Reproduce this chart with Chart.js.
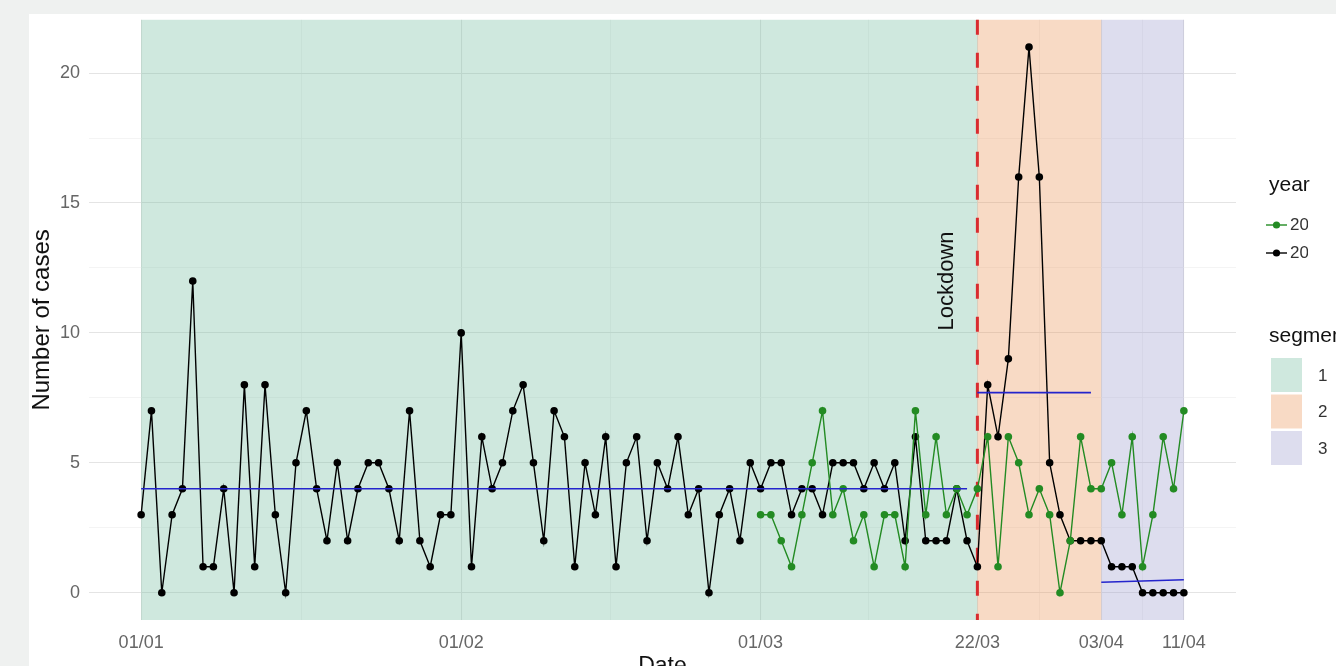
<!DOCTYPE html>
<html>
<head>
<meta charset="utf-8">
<title>Number of cases by date</title>
<script src="https://cdn.jsdelivr.net/npm/chart.js@4"></script>
<style>
  html, body { margin: 0; padding: 0; background: #eff1f0; overflow: hidden; }
  #chart { display: block; }
</style>
</head>
<body>
<canvas id="chart" width="1336" height="666"></canvas>
<script>
// x values are day numbers counted from 01/01/2020
const tickDays = [0, 31, 60, 81, 93, 101];
const tickLabels = ["01/01", "01/02", "01/03", "22/03", "03/04", "11/04"];
const minorDays = [15.5, 45.5, 70.5, 87, 97];
const yTicks = [0, 5, 10, 15, 20];
const yMinorTicks = [2.5, 7.5, 12.5, 17.5];

// daily cases, 01/01 -> 11/04 (black)
const cases2020 = [
    3, 7, 0, 3, 4, 12, 1, 1, 4, 0, 8, 1, 8, 3, 0, 5, 7, 4, 2, 5, 2, 4, 5, 5, 4, 2, 7, 2, 1, 3, 3,
    10, 1, 6, 4, 5, 7, 8, 5, 2, 7, 6, 1, 5, 3, 6, 1, 5, 6, 2, 5, 4, 6, 3, 4, 0, 3, 4, 2, 5,
    4, 5, 5, 3, 4, 4, 3, 5, 5, 5, 4, 5, 4, 5, 2, 6, 2, 2, 2, 4, 2, 1, 8, 6, 9, 16, 21, 16, 5, 3, 2,
    2, 2, 2, 1, 1, 1, 0, 0, 0, 0, 0
];
// daily cases, 01/03 -> 11/04 (green)
const cases2019 = [
    3, 3, 2, 1, 3, 5, 7, 3, 4, 2, 3, 1, 3, 3, 1, 7, 3, 6, 3, 4, 3, 4, 6, 1, 6, 5, 3, 4, 3, 0, 2,
    6, 4, 4, 5, 3, 6, 1, 3, 6, 4, 7
];
const start2019 = 60;
const seriesNames = ["2019", "2020"];

// segments and the fitted level of each one
const segmentNames = ["1", "2", "3"];
const segmentFrom = [0, 81, 93];
const segmentTo = [81, 93, 101];
const fitFrom = [0, 81, 93];
const fitTo = [80, 92, 101];
const fitFromValue = [4.0, 7.7, 0.4];
const fitToValue = [4.0, 7.7, 0.5];
const lockdownDay = 81;
const lockdownLabelY = 12;

const GREEN = "#238b23";
const FILLS = ["rgba(118,189,161,0.35)", "rgba(235,149,89,0.35)", "rgba(158,158,206,0.35)"];
const FONT = "'Liberation Sans', Arial, sans-serif";

Chart.defaults.font.family = FONT;

const blackPoints = cases2020.map((v, i) => ({ x: i, y: v }));
const greenPoints = cases2019.map((v, i) => ({ x: start2019 + i, y: v }));

const fitSets = segmentNames.map((name, i) => ({
    label: "fit " + name,
    data: [{ x: fitFrom[i], y: fitFromValue[i] }, { x: fitTo[i], y: fitToValue[i] }],
    borderColor: "#2424cc",
    borderWidth: 1.6,
    pointRadius: 0,
    order: 0
}));

const decor = {
    id: "decor",
    beforeDraw(chart) {
        const c = chart.ctx;
        c.save();
        c.fillStyle = "#eff1f0";
        c.fillRect(0, 0, chart.width, chart.height);
        c.fillStyle = "#ffffff";
        c.fillRect(29, 14, chart.width - 29, chart.height - 14);
        c.restore();
    },
    beforeDatasetsDraw(chart) {
        const c = chart.ctx;
        const xs = chart.scales.x, ys = chart.scales.y;
        const area = chart.chartArea;
        c.save();
        segmentNames.forEach((n, i) => {
            const x0 = xs.getPixelForValue(segmentFrom[i]);
            const x1 = xs.getPixelForValue(segmentTo[i]);
            c.fillStyle = FILLS[i];
            c.fillRect(x0, area.top, x1 - x0, area.bottom - area.top);
        });
        // lockdown line
        const lx = xs.getPixelForValue(lockdownDay);
        c.strokeStyle = "#d92b2f";
        c.lineWidth = 3;
        c.setLineDash([15, 18]);
        c.beginPath();
        c.moveTo(lx, area.top);
        c.lineTo(lx, area.bottom);
        c.stroke();
        c.setLineDash([]);
        // label
        c.translate(lx - 30, ys.getPixelForValue(lockdownLabelY));
        c.rotate(-Math.PI / 2);
        c.fillStyle = "#111";
        c.font = "22px " + FONT;
        c.textAlign = "center";
        c.textBaseline = "middle";
        c.fillText("Lockdown", 0, 0);
        c.restore();
    },
    afterDraw(chart) {
        const c = chart.ctx;
        c.save();
        c.textAlign = "left";
        c.textBaseline = "middle";
        c.fillStyle = "#111";
        c.font = "21px " + FONT;
        c.fillText("year", 1269, 185);
        const rows = [{ y: 225, col: GREEN }, { y: 253, col: "#000" }];
        rows.forEach((r, i) => {
            c.strokeStyle = r.col;
            c.lineWidth = 1.4;
            c.beginPath();
            c.moveTo(1266, r.y);
            c.lineTo(1287, r.y);
            c.stroke();
            c.fillStyle = r.col;
            c.beginPath();
            c.arc(1276.5, r.y, 3.6, 0, Math.PI * 2);
            c.fill();
            c.save();
            c.beginPath();
            c.rect(1288, r.y - 15, 20, 30);
            c.clip();
            c.fillStyle = "#333";
            c.font = "17px " + FONT;
            c.fillText(seriesNames[i], 1290, r.y);
            c.restore();
        });
        c.fillStyle = "#111";
        c.font = "21px " + FONT;
        c.fillText("segment", 1269, 336);
        const boxTop = [358, 394.5, 431];
        segmentNames.forEach((n, i) => {
            c.fillStyle = FILLS[i];
            c.fillRect(1271, boxTop[i], 31, 34);
            c.fillStyle = "#333";
            c.font = "17px " + FONT;
            c.fillText(n, 1318, boxTop[i] + 18);
        });
        c.restore();
    }
};

new Chart(document.getElementById("chart"), {
    type: "line",
    data: {
        datasets: [
            ...fitSets,
            {
                label: seriesNames[0],
                data: greenPoints,
                borderColor: GREEN,
                backgroundColor: GREEN,
                borderWidth: 1.4,
                pointRadius: 3.8,
                pointBorderWidth: 0,
                order: 1
            },
            {
                label: seriesNames[1],
                data: blackPoints,
                borderColor: "#000",
                backgroundColor: "#000",
                borderWidth: 1.4,
                pointRadius: 3.8,
                pointBorderWidth: 0,
                order: 2
            }
        ]
    },
    options: {
        responsive: false,
        animation: false,
        devicePixelRatio: 1,
        layout: { padding: { left: 29, top: 17, right: 100, bottom: 0 } },
        plugins: { legend: { display: false }, tooltip: { enabled: false } },
        elements: { line: { tension: 0 } },
        scales: {
            x: {
                type: "linear",
                min: -5.05,
                max: 106.05,
                afterBuildTicks: axis => {
                    axis.ticks = tickDays.concat(minorDays).sort((a, b) => a - b).map(v => ({ value: v }));
                },
                afterFit: axis => { axis.height = 46; },
                border: { display: false },
                grid: {
                    drawTicks: false,
                    color: ctx => tickDays.includes(ctx.tick.value) ? "#e4e4e4" : "#efefef",
                    lineWidth: ctx => tickDays.includes(ctx.tick.value) ? 1.1 : 0.7
                },
                ticks: {
                    autoSkip: false,
                    maxRotation: 0,
                    padding: 12,
                    color: "#666",
                    font: { size: 18 },
                    callback: value => {
                        const i = tickDays.indexOf(value);
                        return i >= 0 ? tickLabels[i] : "";
                    }
                },
                title: {
                    display: true,
                    text: "Date",
                    color: "#111",
                    font: { size: 23 },
                    padding: { top: 0, bottom: -14 }
                }
            },
            y: {
                type: "linear",
                min: -1.05,
                max: 22.05,
                afterBuildTicks: axis => {
                    axis.ticks = yTicks.concat(yMinorTicks).sort((a, b) => a - b).map(v => ({ value: v }));
                },
                afterFit: axis => { axis.width = 60; },
                border: { display: false },
                grid: {
                    drawTicks: false,
                    color: ctx => yTicks.includes(ctx.tick.value) ? "#e4e4e4" : "#efefef",
                    lineWidth: ctx => yTicks.includes(ctx.tick.value) ? 1.1 : 0.7
                },
                ticks: {
                    padding: 9,
                    color: "#666",
                    font: { size: 18 },
                    callback: value => yTicks.includes(value) ? String(value) : ""
                },
                title: {
                    display: true,
                    text: "Number of cases",
                    color: "#111",
                    font: { size: 24 },
                    padding: { top: -1, bottom: 0 }
                }
            }
        }
    },
    plugins: [decor]
});
</script>
</body>
</html>
